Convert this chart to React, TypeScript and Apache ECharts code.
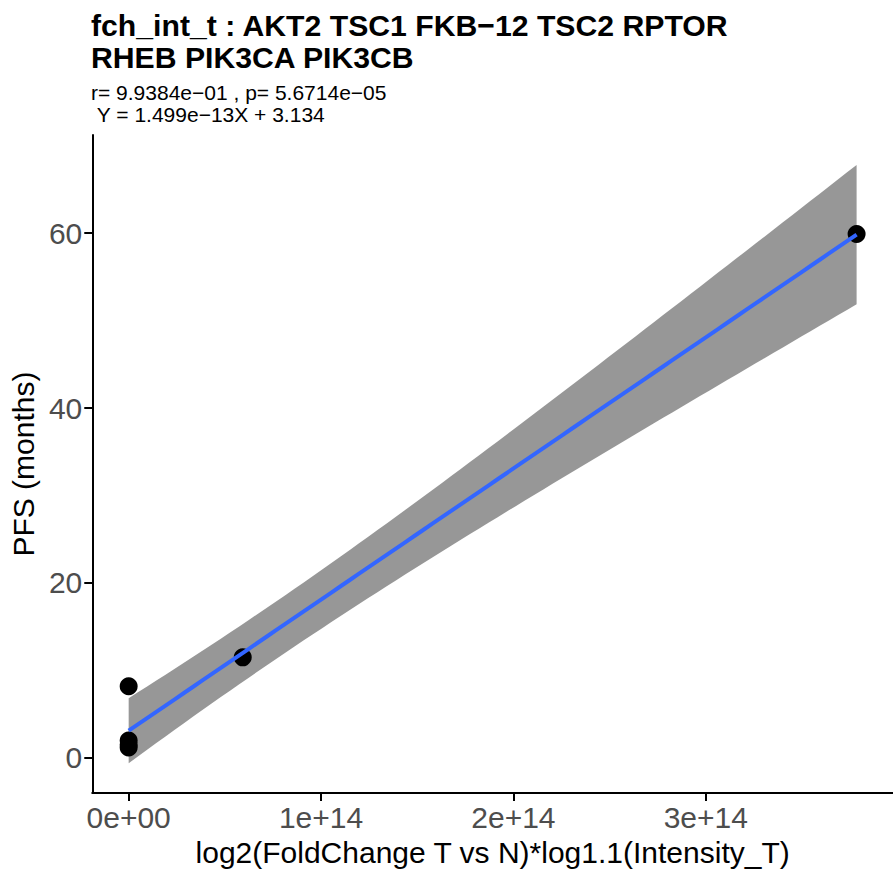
import React, { useEffect, useRef } from 'react';
import * as echarts from 'echarts';

// ---- data ----
const xValues = [0, 0, 0, 0, 5.93e13, 3.784e14];
const yValues = [8.2, 2.0, 1.5, 1.2, 11.5, 59.9];
const xTicks = [0, 1e14, 2e14, 3e14];
const yTicks = [0, 20, 40, 60];
const titleLines = ['fch_int_t : AKT2 TSC1 FKB\u221212 TSC2 RPTOR', 'RHEB PIK3CA PIK3CB'];
const statLines = ['r= 9.9384e\u221201 , p= 5.6714e\u221205', '\u00a0Y = 1.499e\u221213X + 3.134'];
const xName = 'log2(FoldChange T vs N)*log1.1(Intensity_T)';
const yName = 'PFS (months)';
const T_QUANTILE_DF4 = 2.776; // qt(0.975, df = 4)

const FONT = "'Liberation Sans', Arial, Helvetica, sans-serif";

function fitModel() {
  const n = xValues.length;
  const mx = xValues.reduce((a, b) => a + b, 0) / n;
  const my = yValues.reduce((a, b) => a + b, 0) / n;
  let sxx = 0;
  let sxy = 0;
  for (let i = 0; i < n; i++) {
    sxx += (xValues[i] - mx) ** 2;
    sxy += (xValues[i] - mx) * (yValues[i] - my);
  }
  const slope = sxy / sxx;
  const intercept = my - slope * mx;
  let sse = 0;
  for (let i = 0; i < n; i++) sse += (yValues[i] - (intercept + slope * xValues[i])) ** 2;
  const s = Math.sqrt(sse / (n - 2));
  const xmin = Math.min(...xValues);
  const xmax = Math.max(...xValues);
  const band: number[][] = [];
  const line: number[][] = [];
  const steps = 80;
  for (let k = 0; k < steps; k++) {
    const x = xmin + ((xmax - xmin) * k) / (steps - 1);
    const fit = intercept + slope * x;
    const se = s * Math.sqrt(1 / n + (x - mx) ** 2 / sxx);
    band.push([x, fit - T_QUANTILE_DF4 * se, fit + T_QUANTILE_DF4 * se]);
    line.push([x, fit]);
  }
  return { band, line };
}

function sci(v: number) {
  if (v === 0) return '0e+00';
  const e = Math.floor(Math.log10(Math.abs(v)));
  const m = Math.round((v / Math.pow(10, e)) * 1000) / 1000;
  return `${m}e+${e < 10 ? '0' + e : e}`;
}

export default function App() {
  const ref = useRef<HTMLDivElement>(null);
  useEffect(() => {
    if (!ref.current) return;
    const chart = echarts.init(ref.current, undefined, { renderer: 'svg' });
    const { band, line } = fitModel();
    const xmin0 = Math.min(...xValues);
    const xmax0 = Math.max(...xValues);
    const xr = xmax0 - xmin0;
    const ylo = Math.min(...yValues, ...band.map((b) => b[1]));
    const yhi = Math.max(...yValues, ...band.map((b) => b[2]));
    const yr = yhi - ylo;

    chart.setOption({
      animation: false,
      backgroundColor: '#ffffff',
      title: [
        {
          text: titleLines.join('\n'),
          left: 91,
          top: 9,
          padding: 0,
          textStyle: { fontFamily: FONT, fontWeight: 'bold', fontSize: 30.2, lineHeight: 32, color: '#000' },
        },
        {
          text: statLines.join('\n'),
          left: 91,
          top: 81,
          padding: 0,
          textStyle: { fontFamily: FONT, fontWeight: 'normal', fontSize: 21, lineHeight: 22.5, color: '#000' },
        },
      ],
      grid: { left: 91, right: 0, top: 135, bottom: 72, containLabel: false },
      xAxis: {
        type: 'value',
        min: xmin0 - 0.05 * xr,
        max: xmax0 + 0.05 * xr,
        splitLine: { show: false },
        axisLine: { show: true, onZero: false, lineStyle: { color: '#000', width: 2 } },
        axisTick: { show: true, length: 8, lineStyle: { color: '#000', width: 2 }, customValues: xTicks },
        axisLabel: {
          customValues: xTicks,
          formatter: (v: number) => sci(v),
          fontFamily: FONT,
          fontSize: 30,
          color: '#4d4d4d',
          margin: 9,
        },
        name: xName,
        nameLocation: 'middle',
        nameGap: 42,
        nameTextStyle: { fontFamily: FONT, fontSize: 30, color: '#000' },
      },
      yAxis: {
        type: 'value',
        min: ylo - 0.05 * yr,
        max: yhi + 0.05 * yr,
        splitLine: { show: false },
        axisLine: { show: true, onZero: false, lineStyle: { color: '#000', width: 2 } },
        axisTick: { show: true, length: 8, lineStyle: { color: '#000', width: 2 }, customValues: yTicks },
        axisLabel: {
          customValues: yTicks,
          fontFamily: FONT,
          fontSize: 30,
          color: '#4d4d4d',
          margin: 10,
        },
        name: yName,
        nameLocation: 'middle',
        nameGap: 48,
        nameRotate: 90,
        nameTextStyle: { fontFamily: FONT, fontSize: 30, color: '#000' },
      },
      series: [
        {
          type: 'scatter',
          data: xValues.map((x, i) => [x, yValues[i]]),
          symbolSize: 18,
          itemStyle: { color: '#000', opacity: 1 },
          silent: true,
        },
        {
          type: 'custom',
          data: band,
          silent: true,
          encode: { x: 0, y: [1, 2] },
          renderItem: (params: any, api: any) => {
            if (params.dataIndex !== 0) return null;
            const pts: number[][] = [];
            for (const b of band) pts.push(api.coord([b[0], b[2]]));
            for (let i = band.length - 1; i >= 0; i--) pts.push(api.coord([band[i][0], band[i][1]]));
            return {
              type: 'polygon',
              shape: { points: pts },
              style: { fill: 'rgb(92,92,92)', opacity: 0.64 },
            };
          },
        },
        {
          type: 'line',
          data: line,
          symbol: 'none',
          silent: true,
          lineStyle: { color: '#3366FF', width: 4 },
        },
      ],
    });
    return () => chart.dispose();
  }, []);
  return (
    <div
      ref={ref}
      style={{ position: 'fixed', left: 0, top: 0, width: 893, height: 872, background: '#fff' }}
    />
  );
}
